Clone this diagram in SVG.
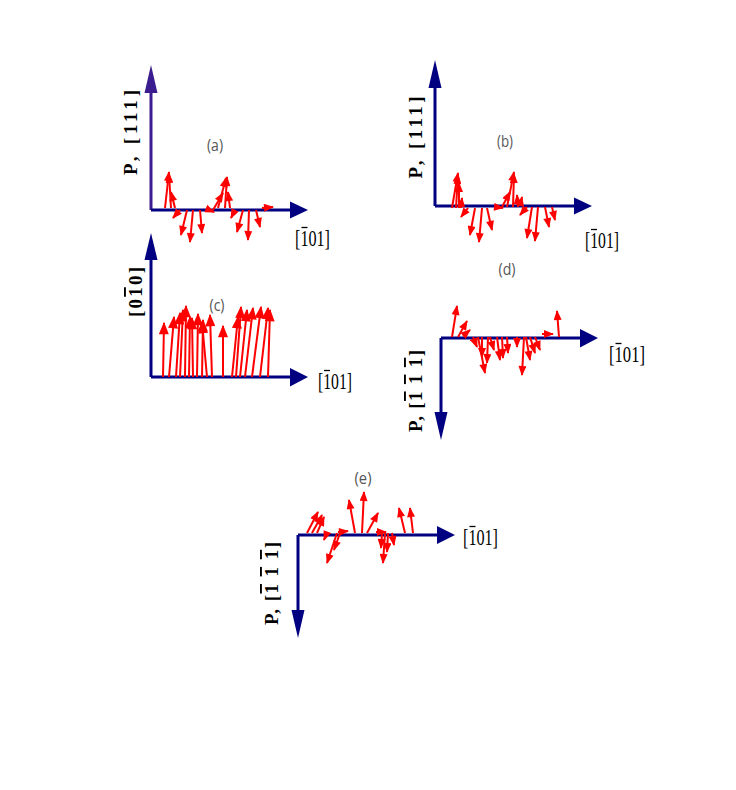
<svg xmlns="http://www.w3.org/2000/svg" width="736" height="790" viewBox="0 0 736 790">
<style>
.ax{stroke:#000080;stroke-width:3;fill:none}
.axh{fill:#000080}
.r{stroke:#ff0000;stroke-width:2;fill:none;marker-end:url(#h)}
.rc{stroke:#ff0000;stroke-width:2;fill:none;marker-end:url(#hc)}
.pl{font-family:"Open Sans","Liberation Sans",sans-serif;font-size:16px;fill:#555555;text-anchor:middle}
.dir{font-family:"Liberation Serif","DejaVu Serif",serif;font-size:24px;fill:#000}
.bar{stroke:#000;stroke-width:1.3}
.ov{text-decoration:overline}
.yl{font-family:"Liberation Serif","DejaVu Serif",serif;font-size:19px;font-weight:bold;fill:#000;text-anchor:middle}
</style>
<defs>
<marker id="h" viewBox="0 0 10 8" refX="9" refY="4" markerWidth="11" markerHeight="8" markerUnits="userSpaceOnUse" orient="auto"><path d="M0,0 L10,4 L0,8 z" fill="#ff0000"/></marker>
<marker id="hc" viewBox="0 0 10 8" refX="9" refY="4" markerWidth="15" markerHeight="10" markerUnits="userSpaceOnUse" orient="auto"><path d="M0,0 L10,4 L0,8 z" fill="#ff0000"/></marker>
</defs>
<rect width="736" height="790" fill="#fff"/>

<g id="panel-a">
<line x1="151" y1="210" x2="151" y2="90" style="stroke:#3c1d8f;stroke-width:3"/>
<polygon points="151,65 157.5,93 144.5,93" fill="#3c1d8f"/>
<line class="ax" x1="151" y1="210" x2="292" y2="210"/>
<polygon class="axh" points="308,210 290,201.5 290,218.5"/>
<text class="pl" x="215" y="151" textLength="16" lengthAdjust="spacingAndGlyphs">(a)</text>
<text class="dir" x="295" y="246" textLength="35" lengthAdjust="spacingAndGlyphs">[101]</text>
<line class="bar" x1="301.5" y1="227.5" x2="307.5" y2="227.5"/>
<text class="yl" transform="translate(137,132.5) rotate(-90)" textLength="85" lengthAdjust="spacing">P, [111]</text>
<g>
<line class="r" x1="165" y1="208" x2="169" y2="172"/>
<line class="r" x1="171" y1="208" x2="169" y2="174"/>
<line class="r" x1="175" y1="208" x2="171" y2="192"/>
<line class="r" x1="180" y1="210" x2="173" y2="218"/>
<line class="r" x1="187" y1="210" x2="181" y2="235"/>
<line class="r" x1="193" y1="210" x2="190" y2="242"/>
<line class="r" x1="200" y1="210" x2="202" y2="233"/>
<line class="r" x1="207" y1="209" x2="214" y2="212"/>
<line class="r" x1="213" y1="210" x2="223" y2="193"/>
<line class="r" x1="218" y1="208" x2="226" y2="178"/>
<line class="r" x1="225" y1="208" x2="227" y2="177"/>
<line class="r" x1="230" y1="208" x2="228" y2="192"/>
<line class="r" x1="235" y1="210" x2="231" y2="218"/>
<line class="r" x1="243" y1="210" x2="237" y2="232"/>
<line class="r" x1="249" y1="210" x2="248" y2="240"/>
<line class="r" x1="256" y1="210" x2="260" y2="227"/>
<line class="r" x1="262" y1="208" x2="273" y2="207"/>
</g>
</g>

<g id="panel-b">
<line class="ax" x1="435" y1="206" x2="435" y2="85"/>
<polygon class="axh" points="435,60 441.5,88 428.5,88"/>
<line class="ax" x1="435" y1="206" x2="576" y2="206"/>
<polygon class="axh" points="592,206 574,197.5 574,214.5"/>
<text class="pl" x="505" y="147" textLength="16" lengthAdjust="spacingAndGlyphs">(b)</text>
<text class="dir" x="585" y="248" textLength="34" lengthAdjust="spacingAndGlyphs">[101]</text>
<line class="bar" x1="591" y1="229.5" x2="597" y2="229.5"/>
<text class="yl" transform="translate(422,137.5) rotate(-90)" textLength="82" lengthAdjust="spacing">P, [111]</text>
<g>
<line class="r" x1="452" y1="208" x2="458" y2="173"/>
<line class="r" x1="456" y1="208" x2="458" y2="175"/>
<line class="r" x1="459" y1="208" x2="459" y2="183"/>
<line class="r" x1="461" y1="208" x2="462" y2="198"/>
<line class="r" x1="468" y1="208" x2="461" y2="217"/>
<line class="r" x1="475" y1="208" x2="470" y2="235"/>
<line class="r" x1="482" y1="208" x2="479" y2="242"/>
<line class="r" x1="487" y1="208" x2="492" y2="230"/>
<line class="r" x1="495" y1="207" x2="503" y2="208"/>
<line class="r" x1="502" y1="207" x2="510" y2="192"/>
<line class="r" x1="507" y1="207" x2="514" y2="172"/>
<line class="r" x1="513" y1="207" x2="514" y2="174"/>
<line class="r" x1="518" y1="207" x2="517" y2="195"/>
<line class="r" x1="520" y1="206" x2="522" y2="197"/>
<line class="r" x1="527" y1="207" x2="520" y2="215"/>
<line class="r" x1="532" y1="207" x2="527" y2="238"/>
<line class="r" x1="538" y1="207" x2="535" y2="241"/>
<line class="r" x1="545" y1="207" x2="549" y2="227"/>
<line class="r" x1="552" y1="207" x2="555" y2="220"/>
</g>
</g>

<g id="panel-c">
<line class="ax" x1="151" y1="377" x2="151" y2="255"/>
<polygon class="axh" points="151,233 157.5,260 144.5,260"/>
<line class="ax" x1="151" y1="377" x2="292" y2="377"/>
<polygon class="axh" points="308,377 290,368 290,386.5"/>
<text class="pl" x="217" y="311" textLength="15" lengthAdjust="spacingAndGlyphs">(c)</text>
<text class="dir" x="318" y="389" textLength="34" lengthAdjust="spacingAndGlyphs">[101]</text>
<line class="bar" x1="324" y1="370.5" x2="330" y2="370.5"/>
<text class="yl" transform="translate(142,292) rotate(-90)" textLength="50" lengthAdjust="spacing">[0<tspan class="ov">1</tspan>0]</text>
<g>
<line class="rc" x1="163" y1="377" x2="164" y2="323"/>
<line class="rc" x1="169" y1="377" x2="174" y2="317"/>
<line class="rc" x1="176" y1="377" x2="180" y2="313"/>
<line class="rc" x1="180" y1="377" x2="183" y2="310"/>
<line class="rc" x1="185" y1="377" x2="186" y2="306"/>
<line class="rc" x1="189" y1="377" x2="190" y2="317"/>
<line class="rc" x1="193" y1="377" x2="192" y2="318"/>
<line class="rc" x1="197" y1="377" x2="198" y2="314"/>
<line class="rc" x1="202" y1="377" x2="203" y2="320"/>
<line class="rc" x1="207" y1="377" x2="202" y2="322"/>
<line class="rc" x1="212" y1="377" x2="210" y2="315"/>
<line class="rc" x1="223" y1="377" x2="223" y2="326"/>
<line class="rc" x1="232" y1="377" x2="238" y2="317"/>
<line class="rc" x1="236" y1="377" x2="241" y2="307"/>
<line class="rc" x1="240" y1="377" x2="247" y2="310"/>
<line class="rc" x1="245" y1="377" x2="253" y2="308"/>
<line class="rc" x1="252" y1="377" x2="261" y2="307"/>
<line class="rc" x1="260" y1="377" x2="268" y2="308"/>
<line class="rc" x1="268" y1="377" x2="270" y2="310"/>
</g>
</g>

<g id="panel-d">
<line class="ax" x1="441" y1="338" x2="583" y2="338"/>
<polygon class="axh" points="598,338 580,329 580,347.5"/>
<line class="ax" x1="441" y1="338" x2="441" y2="415"/>
<polygon class="axh" points="441,440 447.5,412 434.5,412"/>
<text class="pl" x="507" y="275" textLength="17" lengthAdjust="spacingAndGlyphs">(d)</text>
<text class="dir" x="609" y="362" textLength="36" lengthAdjust="spacingAndGlyphs">[101]</text>
<line class="bar" x1="615.5" y1="343.5" x2="621.5" y2="343.5"/>
<text class="yl" transform="translate(422,391) rotate(-90)" textLength="82" lengthAdjust="spacing">P, [<tspan class="ov">1</tspan> <tspan class="ov">1</tspan> <tspan class="ov">1</tspan>]</text>
<g>
<line class="r" x1="452" y1="337" x2="457" y2="306"/>
<line class="r" x1="458" y1="337" x2="467" y2="321"/>
<line class="r" x1="463" y1="336" x2="470" y2="330"/>
<line class="r" x1="473" y1="337" x2="477" y2="347"/>
<line class="r" x1="478" y1="337" x2="485" y2="373"/>
<line class="r" x1="482" y1="337" x2="482" y2="357"/>
<line class="r" x1="488" y1="337" x2="487" y2="363"/>
<line class="r" x1="490" y1="337" x2="494" y2="350"/>
<line class="r" x1="497" y1="337" x2="500" y2="360"/>
<line class="r" x1="502" y1="337" x2="503" y2="358"/>
<line class="r" x1="507" y1="337" x2="508" y2="353"/>
<line class="r" x1="517" y1="337" x2="517" y2="347"/>
<line class="r" x1="524" y1="337" x2="522" y2="375"/>
<line class="r" x1="526" y1="337" x2="530" y2="360"/>
<line class="r" x1="530" y1="337" x2="535" y2="353"/>
<line class="r" x1="535" y1="337" x2="540" y2="350"/>
<line class="r" x1="542" y1="334" x2="553" y2="334"/>
<line class="r" x1="559" y1="337" x2="557" y2="311"/>
</g>
</g>

<g id="panel-e">
<line class="ax" x1="298" y1="535" x2="440" y2="535"/>
<polygon class="axh" points="455,535 437,526 437,544"/>
<line class="ax" x1="298" y1="535" x2="298" y2="613"/>
<polygon class="axh" points="298,638 304.5,610 291.5,610"/>
<text class="pl" x="363" y="484" textLength="17" lengthAdjust="spacingAndGlyphs">(e)</text>
<text class="dir" x="463" y="545" textLength="35" lengthAdjust="spacingAndGlyphs">[101]</text>
<line class="bar" x1="469.5" y1="526.5" x2="475.5" y2="526.5"/>
<text class="yl" transform="translate(278,583.5) rotate(-90)" textLength="83" lengthAdjust="spacing">P, [<tspan class="ov">1</tspan> <tspan class="ov">1</tspan> <tspan class="ov">1</tspan>]</text>
<g>
<line class="r" x1="307" y1="533" x2="318" y2="512"/>
<line class="r" x1="312" y1="533" x2="322" y2="515"/>
<line class="r" x1="317" y1="533" x2="324" y2="517"/>
<line class="r" x1="326" y1="535" x2="324" y2="540"/>
<line class="r" x1="337" y1="533" x2="327" y2="563"/>
<line class="r" x1="340" y1="533" x2="334" y2="550"/>
<line class="r" x1="338" y1="532" x2="348" y2="531"/>
<line class="r" x1="355" y1="533" x2="349" y2="500"/>
<line class="r" x1="362" y1="533" x2="364" y2="492"/>
<line class="r" x1="367" y1="533" x2="378" y2="513"/>
<line class="r" x1="376" y1="532" x2="386" y2="532"/>
<line class="r" x1="382" y1="533" x2="381" y2="548"/>
<line class="r" x1="385" y1="533" x2="383" y2="563"/>
<line class="r" x1="388" y1="533" x2="387" y2="552"/>
<line class="r" x1="392" y1="533" x2="394" y2="545"/>
<line class="r" x1="405" y1="533" x2="399" y2="508"/>
<line class="r" x1="413" y1="533" x2="410" y2="508"/>
</g>
</g>
</svg>
